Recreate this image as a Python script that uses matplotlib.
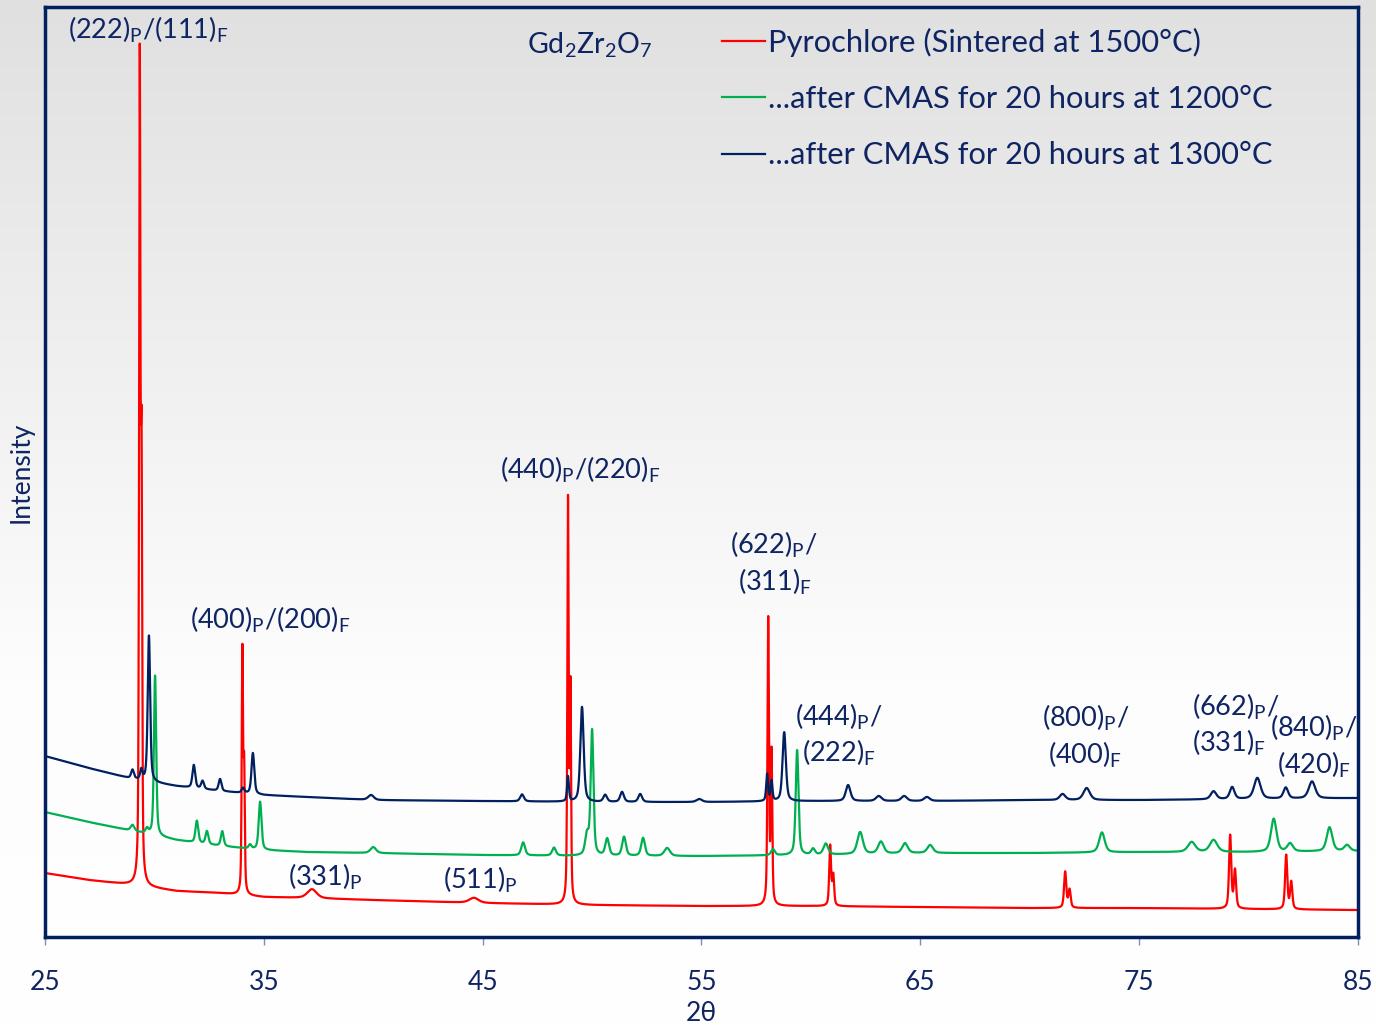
import numpy as np
import matplotlib
matplotlib.use("Agg")
import matplotlib.pyplot as plt

plt.rcParams['font.family'] = ['Lato', 'DejaVu Sans']
plt.rcParams['mathtext.default'] = 'regular'

# background level read at these 2-theta positions (y = pixel units above the x axis)
bg_x = [25, 27, 29, 31, 33, 35, 37, 40, 45, 50, 55, 60, 65, 70, 75, 80, 85]
red_bg = [64, 57, 52, 46, 44, 40, 39, 37, 34, 32, 31, 31, 30, 29, 29, 28, 27]
green_bg = [125, 115, 106, 97, 91, 87, 85, 84, 82, 81, 81, 82, 84, 84, 85, 85, 86]
navy_bg = [181, 169, 158, 151, 146, 142, 140, 137, 136, 135, 135, 136, 136, 137, 137, 138, 139]

# peaks: position (2theta), height above background, width (FWHM)
red_pos = [29.33, 29.41, 34.02, 34.10, 37.2, 44.6, 48.90, 49.01, 58.05, 58.20,
           60.88, 61.02, 71.62, 71.82, 79.16, 79.38, 81.72, 81.95]
red_h = [805, 400, 240, 120, 9, 5, 400, 210, 285, 150,
         60, 30, 36, 18, 73, 38, 54, 27]
red_w = [0.07, 0.07, 0.07, 0.07, 0.5, 0.5, 0.07, 0.07, 0.08, 0.08,
         0.1, 0.1, 0.12, 0.12, 0.12, 0.12, 0.12, 0.12]

green_pos = [29.0, 29.66, 30.03, 31.94, 32.4, 33.1, 34.37, 34.83, 40.0, 46.85,
             48.26, 49.77, 50.0, 50.69, 51.46, 52.33, 53.43, 58.27, 59.37, 60.1,
             60.68, 62.25, 63.2, 64.3, 65.45, 73.3, 77.4, 78.4, 81.15, 81.9,
             83.7, 84.5]
green_h = [6, 5, 160, 22, 13, 15, 4, 48, 6, 13,
           8, 20, 125, 17, 19, 18, 8, 6, 105, 6,
           11, 22, 12, 10, 8, 20, 10, 12, 33, 8,
           24, 6]
green_w = [0.2, 0.15, 0.12, 0.15, 0.15, 0.15, 0.15, 0.15, 0.3, 0.2,
           0.2, 0.2, 0.15, 0.2, 0.2, 0.2, 0.3, 0.2, 0.15, 0.2,
           0.25, 0.3, 0.3, 0.3, 0.3, 0.3, 0.4, 0.4, 0.3, 0.3,
           0.3, 0.3]

navy_pos = [29.0, 29.4, 29.75, 31.8, 32.2, 33.0, 34.05, 34.5, 39.9, 46.8,
            48.9, 49.54, 50.6, 51.37, 52.2, 54.9, 58.0, 58.2, 58.78, 61.7,
            63.1, 64.26, 65.3, 71.5, 72.6, 78.4, 79.25, 80.4, 81.7, 82.9]
navy_h = [9, 10, 146, 23, 8, 12, 5, 41, 5, 7,
          25, 95, 7, 10, 8, 3, 27, 20, 69, 16,
          5, 5, 4, 6, 12, 8, 12, 21, 11, 17]
navy_w = [0.15, 0.12, 0.13, 0.15, 0.15, 0.15, 0.15, 0.15, 0.3, 0.2,
          0.1, 0.18, 0.2, 0.2, 0.2, 0.3, 0.1, 0.1, 0.18, 0.25,
          0.3, 0.3, 0.3, 0.3, 0.35, 0.3, 0.25, 0.35, 0.25, 0.35]

labels = ['Pyrochlore (Sintered at 1500°C)',
          '...after CMAS for 20 hours at 1200°C',
          '...after CMAS for 20 hours at 1300°C']
colors = ['#ff0000', '#00b050', '#002060']
txt = '#0f2462'

# peak labels: text, left x (2theta), y
peak_labels = ['(222)$_{P}$/(111)$_{F}$', '(400)$_{P}$/(200)$_{F}$', '(440)$_{P}$/(220)$_{F}$',
               '(622)$_{P}$/', '(311)$_{F}$', '(444)$_{P}$/', '(222)$_{F}$',
               '(800)$_{P}$/', '(400)$_{F}$', '(662)$_{P}$/', '(331)$_{F}$',
               '(840)$_{P}$/', '(420)$_{F}$', '(331)$_{P}$', '(511)$_{P}$']
label_x = [26.05, 31.63, 45.8, 56.31, 56.67, 59.28, 59.6, 70.57, 70.84,
           77.42, 77.42, 80.99, 81.31, 36.1, 43.19]
label_y = [907, 317, 467, 392, 355, 220, 184, 219, 182, 230, 194, 209, 172, 60, 57]

two_theta = np.arange(25, 85.001, 0.005)


def pattern(bg, pos, h, w):
    y = np.interp(two_theta, bg_x, bg)
    for c, hh, ww in zip(pos, h, w):
        d = (two_theta - c) / ww
        y = y + hh * (0.5 * np.exp(-4 * np.log(2) * d ** 2) + 0.5 / (1 + 4 * d ** 2))
    return y


fig = plt.figure(figsize=(13.76, 10.26), dpi=100)

# grey-to-white background
bgax = fig.add_axes([0, 0, 1, 1], zorder=-10)
grad = np.linspace(0, 1, 256).reshape(-1, 1)
bgax.imshow(grad, aspect='auto', cmap=matplotlib.colors.LinearSegmentedColormap.from_list(
    'g', ['#e0e0e0', '#efefef', '#fdfdfd', '#ffffff']), extent=[0, 1, 0, 1], origin='upper')
bgax.axis('off')

ax = fig.add_axes([0.0327, 0.0867, 0.9542, 0.9064])
ax.set_facecolor('none')

series = [(red_bg, red_pos, red_h, red_w),
          (green_bg, green_pos, green_h, green_w),
          (navy_bg, navy_pos, navy_h, navy_w)]
for (bg, pos, h, w), col, lab in zip(series, colors, labels):
    ax.plot(two_theta, pattern(bg, pos, h, w), color=col, lw=1.6, label=lab)

ax.set_xlim(25, 85)
ax.set_ylim(0, 930)
ax.set_xticks([25, 35, 45, 55, 65, 75, 85])
ax.set_yticks([])
ax.tick_params(axis='x', direction='out', length=6, width=1, color='#8090b0',
               labelsize=19, labelcolor=txt, pad=18)
for s in ax.spines.values():
    s.set_color('#002060')
    s.set_linewidth(2.5)
ax.set_xlabel('2θ', fontsize=19, color=txt, labelpad=4)
ax.set_ylabel('Intensity', fontsize=19, color=txt, labelpad=8)

leg = ax.legend(loc='upper left', bbox_to_anchor=(0.5156, 0.978), frameon=False,
                fontsize=22.2, handlelength=1.4, handletextpad=0.08, labelspacing=0.92,
                borderpad=0, borderaxespad=0)
for t in leg.get_texts():
    t.set_color(txt)
for l in leg.get_lines():
    l.set_linewidth(1.6)

fs = 19.5
ax.text(47.03, 892, 'Gd$_{2}$Zr$_{2}$O$_{7}$', fontsize=20.5, color=txt, ha='left', va='center')
for s, lx, ly in zip(peak_labels, label_x, label_y):
    ax.text(lx, ly, s, fontsize=fs, color=txt, ha='left', va='center')

fig.savefig('out.png', dpi=100)
